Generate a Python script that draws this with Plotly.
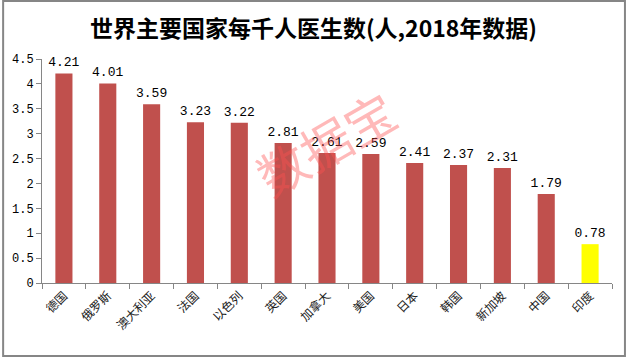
import plotly.graph_objects as go

countries = ["德国", "俄罗斯", "澳大利亚", "法国", "以色列", "英国", "加拿大",
             "美国", "日本", "韩国", "新加坡", "中国", "印度"]
values = [4.21, 4.01, 3.59, 3.23, 3.22, 2.81, 2.61, 2.59, 2.41, 2.37, 2.31, 1.79, 0.78]
highlight = "印度"
y_ticks = [0, 0.5, 1, 1.5, 2, 2.5, 3, 3.5, 4, 4.5]
title_text = "世界主要国家每千人医生数(人,2018年数据)"
watermark = "数据宝"

colors = ["#FFFF00" if c == highlight else "#C0504D" for c in countries]

fig = go.Figure(go.Bar(
    x=countries, y=values,
    marker=dict(color=colors, line=dict(width=0)),
    width=0.39,
    text=[f"{v:.2f}" for v in values],
    textposition="outside",
    constraintext="none",
    textfont=dict(family="Liberation Mono, DejaVu Sans Mono", size=13, color="#000000"),
    cliponaxis=False,
))

fig.update_layout(
    width=627, height=357,
    margin=dict(l=40, r=15, t=59, b=74),
    paper_bgcolor="white", plot_bgcolor="white",
    showlegend=False,
    title=dict(text=f"<b>{title_text}</b>", x=0.5, xanchor="center", y=0.92, yanchor="middle",
               font=dict(family="Noto Sans CJK SC", size=23, color="#000000")),
    xaxis=dict(
        type="category",
        showline=True, linecolor="#868686", linewidth=1,
        ticks="outside", ticklen=5, tickcolor="#868686", tickson="boundaries",
        tickangle=-45,
        tickfont=dict(family="Noto Sans CJK SC", size=12, color="#222222"),
        showgrid=False, zeroline=False,
    ),
    yaxis=dict(
        range=[0, 4.5],
        tickvals=y_ticks,
        ticktext=[f"{t:g}" for t in y_ticks],
        showline=True, linecolor="#868686", linewidth=1,
        ticks="outside", ticklen=5, tickcolor="#868686",
        tickfont=dict(family="Liberation Mono, DejaVu Sans Mono", size=12, color="#000000"),
        showgrid=False, zeroline=False,
    ),
    shapes=[dict(type="rect", xref="paper", yref="paper",
                 x0=-39/572, x1=1 + 13/572, y0=-73/224, y1=1 + 58/224,
                 line=dict(color="#868686", width=2), fillcolor="rgba(0,0,0,0)", layer="below")],
    annotations=[dict(text=watermark, xref="paper", yref="paper",
                      x=(324-40)/572, y=(283-142)/224, xanchor="center", yanchor="middle",
                      showarrow=False, textangle=-30,
                      font=dict(family="Noto Sans CJK SC", size=50, color="rgba(255,80,80,0.4)"))],
)

fig.write_html("out.html", config={"displayModeBar": False},
               post_script="document.body.style.margin='0';document.body.style.overflow='hidden';")
